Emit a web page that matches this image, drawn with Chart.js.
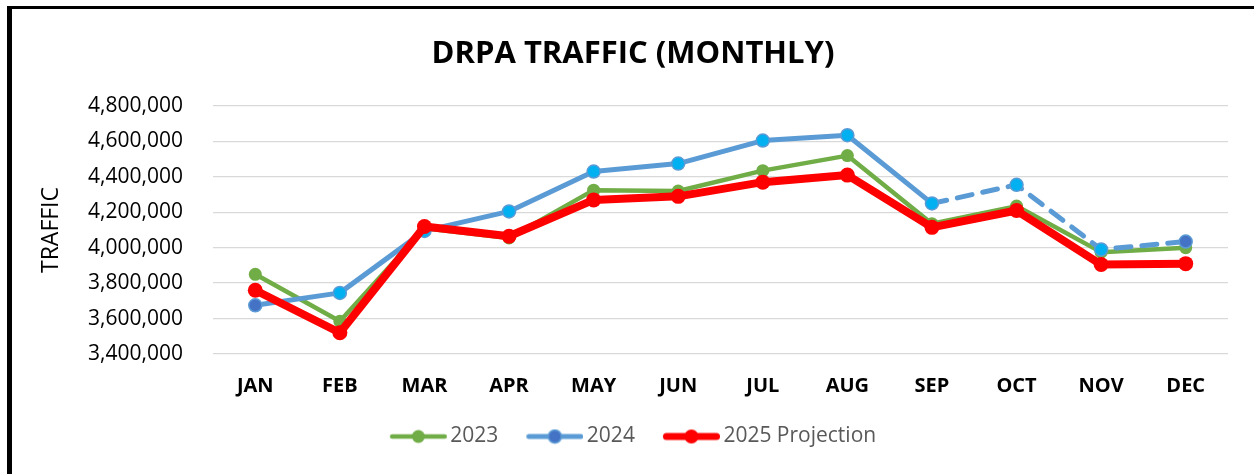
<!DOCTYPE html>
<html>
<head>
<meta charset="utf-8">
<script src="https://cdn.jsdelivr.net/npm/chart.js@4"></script>
<style>
  body { margin: 0; background: #fff; overflow: hidden; }
  #frame { position: absolute; left: 7px; top: 6px; border-left: 5px solid #000; border-top: 3px solid #000; }
  #frame canvas { display: block; }
</style>
</head>
<body>
<div id="frame"><canvas id="traffic" width="1242" height="465"></canvas></div>
<script>
const months = ['JAN', 'FEB', 'MAR', 'APR', 'MAY', 'JUN', 'JUL', 'AUG', 'SEP', 'OCT', 'NOV', 'DEC'];
const traffic2023 = [3850000, 3585000, 4110000, 4055000, 4325000, 4320000, 4435000, 4520000, 4135000, 4235000, 3975000, 4000000];
const traffic2024 = [3675000, 3745000, 4095000, 4205000, 4430000, 4475000, 4605000, 4635000, 4250000, 4355000, 3990000, 4035000];
const projection2025 = [3760000, 3520000, 4120000, 4065000, 4270000, 4290000, 4370000, 4410000, 4115000, 4210000, 3905000, 3910000];
const yTicks = [3400000, 3600000, 3800000, 4000000, 4200000, 4400000, 4600000, 4800000];

const green = '#70AD47', blue = '#5B9BD5', cyan = '#00B0F0', darkBlue = '#4472C4', red = '#FF0000';
const font = 'Open Sans';

// little line + dot pictures for the legend (left 7px left empty so the text sits close)
function legendIcon(lineColor, dotColor, ringColor, lw, r) {
  const c = document.createElement('canvas');
  c.width = 64; c.height = 16;
  const g = c.getContext('2d');
  g.strokeStyle = lineColor; g.lineWidth = lw; g.lineCap = 'round';
  g.beginPath(); g.moveTo(7 + lw / 2, 8); g.lineTo(64 - lw / 2, 8); g.stroke();
  g.fillStyle = dotColor;
  g.beginPath(); g.arc(35.5, 8, r, 0, Math.PI * 2); g.fill();
  if (ringColor) { g.strokeStyle = ringColor; g.lineWidth = 1.5; g.stroke(); }
  return c;
}
const icons = [
  legendIcon(green, green, null, 4.5, 6.5),
  legendIcon(blue, darkBlue, blue, 5, 6.5),
  legendIcon(red, red, null, 7, 7)
];

const blueDots = months.map((m, i) => (i == 0 || i == months.length - 1) ? darkBlue : cyan);

let ctx = document.getElementById('traffic').getContext('2d');

let trafficChart = new Chart(ctx, {
  type: 'line',
  data: {
    labels: months,
    datasets: [
      {
        label: '2023',
        data: traffic2023,
        borderColor: green,
        backgroundColor: green,
        borderWidth: 4.5,
        pointRadius: 6.5,
        pointBackgroundColor: green,
        pointBorderColor: green,
        pointBorderWidth: 0,
        order: 2
      },
      {
        label: '2024',
        data: traffic2024,
        borderColor: blue,
        backgroundColor: blue,
        borderWidth: 5,
        borderCapStyle: 'round',
        pointRadius: 6.5,
        pointBackgroundColor: blueDots,
        pointBorderColor: blue,
        pointBorderWidth: 1.5,
        segment: {
          borderDash: c => c.p0DataIndex >= 8 ? [15, 11] : undefined
        },
        order: 1
      },
      {
        label: '2025 Projection',
        data: projection2025,
        borderColor: red,
        backgroundColor: red,
        borderWidth: 8,
        pointRadius: 7.5,
        pointBackgroundColor: red,
        pointBorderColor: red,
        pointBorderWidth: 0,
        order: 0
      }
    ]
  },
  options: {
    responsive: false,
    animation: false,
    events: [],
    elements: { line: { tension: 0, borderJoinStyle: 'round' } },
    layout: { padding: { top: 0, left: 0, right: 0, bottom: 17 } },
    plugins: {
      title: {
        display: true,
        text: 'DRPA TRAFFIC (MONTHLY)',
        color: '#000',
        font: { family: font, size: 31, weight: 'bold' },
        padding: { top: 26.4, bottom: 33.4 }
      },
      legend: {
        position: 'bottom',
        labels: {
          usePointStyle: true,
          pointStyleWidth: 50,
          padding: 28,
          color: '#595959',
          font: { family: font, size: 21 },
          generateLabels: chart => chart.data.datasets.map((ds, i) => ({
            text: ds.label,
            pointStyle: icons[i],
            datasetIndex: i,
            fontColor: '#595959',
            fillStyle: 'transparent',
            strokeStyle: 'transparent',
            lineWidth: 0,
            hidden: false
          }))
        }
      },
      tooltip: { enabled: false }
    },
    scales: {
      x: {
        offset: true,
        grid: { display: false, drawTicks: false, offset: true },
        border: { display: false },
        ticks: { color: '#000', padding: 20, font: { family: font, size: 20, weight: 'bold' } },
        afterFit: s => { s.height = 44; }
      },
      y: {
        min: 3400000,
        max: 4800000,
        afterBuildTicks: s => { s.ticks = yTicks.map(v => ({ value: v })); },
        grid: { color: '#D9D9D9', lineWidth: 1.3, drawTicks: false },
        border: { display: false },
        ticks: {
          color: '#000',
          padding: 30,
          font: { family: font, size: 21 },
          callback: v => v.toLocaleString('en-US')
        },
        title: {
          display: true,
          text: 'TRAFFIC',
          color: '#000',
          font: { family: font, size: 23 },
          padding: { top: 25.2, bottom: 0 }
        },
        afterFit: s => { s.width = 201; }
      },
      y2: {
        position: 'right',
        grid: { display: false, drawTicks: false },
        border: { display: false },
        ticks: { display: false },
        afterFit: s => { s.width = 26; }
      }
    }
  }
});
</script>
</body>
</html>
